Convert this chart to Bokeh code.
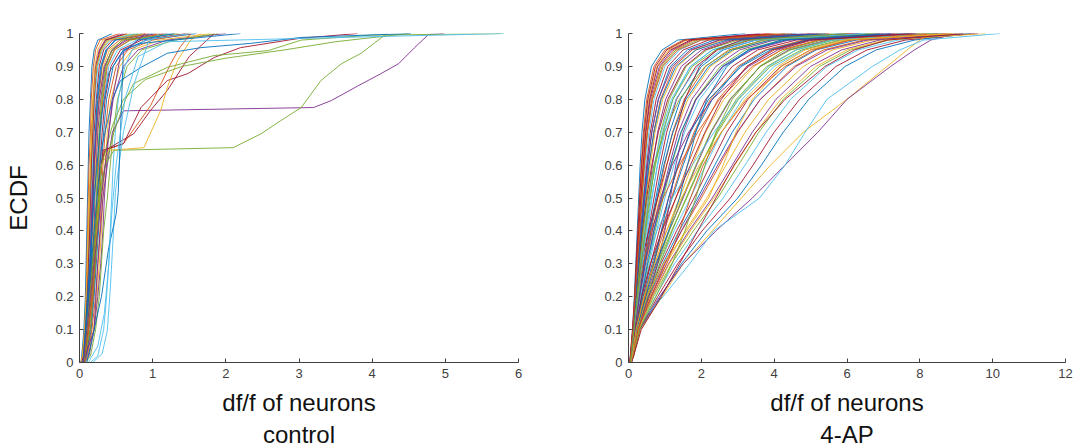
from bokeh.plotting import figure
from bokeh.layouts import row
from bokeh.models import FixedTicker, CustomJSTickFormatter, Title, Range1d
from bokeh.embed import file_html
from bokeh.resources import INLINE

# ---------------- data ----------------
# ECDF probability levels at which quantiles (x values) were read off
P_LEVELS = [0, 0.02, 0.1, 0.2, 0.3, 0.4, 0.5, 0.6, 0.7, 0.8, 0.9, 0.95, 0.98, 1.0]

# control: dense band of steep curves (x at each P level)
CONTROL_BAND = [
    [0.02, 0.03, 0.06, 0.08, 0.09, 0.10, 0.11, 0.12, 0.13, 0.15, 0.17, 0.20, 0.25, 0.45],
    [0.02, 0.04, 0.07, 0.09, 0.10, 0.11, 0.12, 0.13, 0.15, 0.16, 0.19, 0.22, 0.28, 0.55],
    [0.03, 0.04, 0.08, 0.10, 0.11, 0.12, 0.13, 0.15, 0.16, 0.18, 0.21, 0.25, 0.32, 0.70],
    [0.02, 0.05, 0.08, 0.10, 0.12, 0.13, 0.14, 0.16, 0.17, 0.19, 0.22, 0.27, 0.35, 0.60],
    [0.03, 0.05, 0.09, 0.11, 0.13, 0.14, 0.15, 0.17, 0.18, 0.20, 0.24, 0.29, 0.38, 0.80],
    [0.03, 0.05, 0.09, 0.12, 0.14, 0.15, 0.16, 0.18, 0.19, 0.21, 0.25, 0.31, 0.42, 0.75],
    [0.04, 0.06, 0.10, 0.13, 0.15, 0.16, 0.17, 0.19, 0.20, 0.23, 0.27, 0.33, 0.45, 0.90],
    [0.03, 0.06, 0.10, 0.13, 0.15, 0.17, 0.18, 0.20, 0.22, 0.24, 0.29, 0.36, 0.50, 1.00],
    [0.04, 0.07, 0.11, 0.14, 0.16, 0.18, 0.19, 0.21, 0.23, 0.26, 0.31, 0.38, 0.55, 0.95],
    [0.04, 0.07, 0.12, 0.15, 0.17, 0.19, 0.20, 0.22, 0.24, 0.27, 0.33, 0.41, 0.60, 1.10],
    [0.05, 0.08, 0.12, 0.16, 0.18, 0.20, 0.21, 0.23, 0.25, 0.29, 0.35, 0.44, 0.65, 1.20],
    [0.04, 0.08, 0.13, 0.17, 0.19, 0.21, 0.23, 0.25, 0.27, 0.31, 0.37, 0.47, 0.70, 1.30],
    [0.05, 0.09, 0.14, 0.18, 0.21, 0.23, 0.25, 0.27, 0.29, 0.33, 0.40, 0.52, 0.78, 1.25],
    [0.05, 0.09, 0.15, 0.19, 0.22, 0.24, 0.26, 0.28, 0.31, 0.35, 0.43, 0.56, 0.85, 1.45],
    [0.06, 0.10, 0.16, 0.20, 0.23, 0.26, 0.28, 0.30, 0.33, 0.37, 0.46, 0.60, 0.92, 1.60],
    [0.06, 0.11, 0.17, 0.22, 0.25, 0.28, 0.30, 0.32, 0.35, 0.40, 0.50, 0.66, 1.00, 1.50],
    [0.07, 0.12, 0.19, 0.24, 0.27, 0.30, 0.32, 0.35, 0.38, 0.43, 0.55, 0.72, 1.10, 1.80],
    [0.07, 0.13, 0.20, 0.25, 0.29, 0.32, 0.34, 0.37, 0.40, 0.46, 0.60, 0.80, 1.20, 2.00],
    [0.08, 0.15, 0.22, 0.27, 0.30, 0.33, 0.38, 0.42, 0.46, 0.52, 0.65, 0.85, 1.30, 1.90],
    [0.15, 0.25, 0.33, 0.37, 0.40, 0.42, 0.44, 0.46, 0.49, 0.53, 0.62, 0.72, 0.90, 1.50],
    [0.03, 0.05, 0.08, 0.11, 0.12, 0.14, 0.15, 0.16, 0.18, 0.20, 0.23, 0.28, 0.36, 0.65],
    [0.04, 0.06, 0.11, 0.14, 0.16, 0.17, 0.19, 0.20, 0.22, 0.25, 0.30, 0.37, 0.48, 0.85],
    [0.05, 0.08, 0.13, 0.17, 0.20, 0.22, 0.24, 0.26, 0.28, 0.32, 0.38, 0.48, 0.68, 1.15],
    [0.02, 0.04, 0.07, 0.09, 0.11, 0.12, 0.14, 0.15, 0.17, 0.19, 0.23, 0.30, 0.40, 0.90],
    [0.03, 0.06, 0.10, 0.12, 0.14, 0.16, 0.18, 0.20, 0.23, 0.27, 0.34, 0.45, 0.62, 1.05],
    [0.04, 0.07, 0.11, 0.15, 0.18, 0.21, 0.23, 0.25, 0.27, 0.30, 0.36, 0.44, 0.58, 1.35],
]

# control: individual outlier curves (x, y pairs)
PURPLE_A_X = [0.05, 0.20, 0.25, 0.32, 0.38, 0.45, 0.60, 3.20, 3.44, 3.80, 4.12, 4.36, 4.58, 4.77, 4.98]
PURPLE_A_Y = [0.0, 0.10, 0.30, 0.50, 0.60, 0.70, 0.765, 0.775, 0.796, 0.84, 0.878, 0.908, 0.957, 0.997, 1.0]
GREEN_B_X = [0.05, 0.15, 0.22, 0.28, 0.35, 0.47, 2.10, 2.48, 2.75, 3.03, 3.30, 3.58, 3.85, 4.20]
GREEN_B_Y = [0.0, 0.10, 0.30, 0.50, 0.60, 0.645, 0.653, 0.695, 0.735, 0.775, 0.857, 0.908, 0.94, 1.0]
RED_C_X = [0.06, 0.18, 0.25, 0.30, 0.35, 0.60, 0.97, 1.25, 1.38, 1.52]
RED_C_Y = [0.0, 0.20, 0.45, 0.60, 0.645, 0.665, 0.78, 0.91, 0.96, 1.0]
RED_E_X = [0.06, 0.20, 0.28, 0.32, 0.60, 0.84, 1.20, 1.48, 1.84, 2.20, 3.00, 3.80]
RED_E_Y = [0.0, 0.30, 0.55, 0.645, 0.665, 0.775, 0.857, 0.878, 0.927, 0.957, 0.985, 1.0]
RED_F_X = [0.05, 0.20, 0.30, 0.35, 0.74, 0.97, 1.20, 1.50, 1.84]
RED_F_Y = [0.0, 0.35, 0.60, 0.645, 0.695, 0.766, 0.827, 0.93, 1.0]
ORANGE_D_X = [0.05, 0.20, 0.30, 0.40, 0.88, 1.11, 1.20, 1.34, 1.52, 1.66]
ORANGE_D_Y = [0.0, 0.30, 0.60, 0.645, 0.653, 0.766, 0.836, 0.918, 0.98, 1.0]
GREEN_G_X = [0.06, 0.20, 0.30, 0.47, 0.63, 0.74, 1.20, 1.84, 2.58, 3.03, 4.00, 5.77]
GREEN_G_Y = [0.0, 0.30, 0.55, 0.70, 0.80, 0.848, 0.897, 0.933, 0.948, 0.98, 0.995, 1.0]
GREEN_H_X = [0.05, 0.20, 0.30, 0.45, 0.60, 0.90, 1.40, 2.00, 2.80, 3.50, 4.50]
GREEN_H_Y = [0.0, 0.35, 0.60, 0.72, 0.80, 0.86, 0.90, 0.925, 0.95, 0.975, 1.0]
BLUE_I_X = [0.05, 0.20, 0.30, 0.45, 0.56, 0.84, 1.20, 1.66, 2.34, 3.03, 4.53]
BLUE_I_Y = [0.0, 0.40, 0.65, 0.80, 0.857, 0.897, 0.94, 0.957, 0.97, 0.988, 1.0]
BLUE_J_X = [0.05, 0.20, 0.30, 0.40, 0.60, 0.84, 1.66, 2.20]
BLUE_J_Y = [0.0, 0.50, 0.75, 0.88, 0.95, 0.97, 0.988, 1.0]
CYAN_K_X = [0.18, 0.31, 0.38, 0.42, 0.47, 0.49, 0.60, 0.75, 0.94, 1.10]
CYAN_K_Y = [0.0, 0.027, 0.097, 0.22, 0.42, 0.517, 0.70, 0.85, 0.973, 1.0]
BLUE_L_X = [0.10, 0.30, 0.40, 0.50, 0.53, 0.60, 0.80, 1.30]
BLUE_L_Y = [0.0, 0.20, 0.35, 0.45, 0.517, 0.945, 0.98, 1.0]
PURPLE_M_X = [0.05, 0.20, 0.30, 0.36, 0.45, 0.56, 0.90]
PURPLE_M_Y = [0.0, 0.30, 0.50, 0.62, 0.80, 0.933, 1.0]
CYAN_N_X = [0.12, 0.25, 0.34, 0.40, 0.44, 0.50, 0.62, 0.80, 1.20, 5.80]
CYAN_N_Y = [0.0, 0.05, 0.15, 0.30, 0.45, 0.60, 0.80, 0.93, 0.975, 1.0]

CONTROL_OUTLIERS = [
    (PURPLE_A_X, PURPLE_A_Y, "#7E2F8E"),
    (GREEN_B_X, GREEN_B_Y, "#77AC30"),
    (RED_C_X, RED_C_Y, "#D95319"),
    (RED_E_X, RED_E_Y, "#A2142F"),
    (RED_F_X, RED_F_Y, "#A2142F"),
    (ORANGE_D_X, ORANGE_D_Y, "#EDB120"),
    (GREEN_G_X, GREEN_G_Y, "#77AC30"),
    (GREEN_H_X, GREEN_H_Y, "#77AC30"),
    (BLUE_I_X, BLUE_I_Y, "#0072BD"),
    (BLUE_J_X, BLUE_J_Y, "#0072BD"),
    (CYAN_K_X, CYAN_K_Y, "#4DBEEE"),
    (BLUE_L_X, BLUE_L_Y, "#0072BD"),
    (PURPLE_M_X, PURPLE_M_Y, "#7E2F8E"),
    (CYAN_N_X, CYAN_N_Y, "#4DBEEE"),
]

# 4-AP: x at each P level
AP_CURVES = [
    [0.03, 0.05, 0.11, 0.16, 0.20, 0.24, 0.28, 0.32, 0.37, 0.45, 0.63, 0.92, 1.35, 3.2],
    [0.04, 0.06, 0.12, 0.17, 0.22, 0.26, 0.30, 0.35, 0.41, 0.50, 0.70, 1.00, 1.50, 3.8],
    [0.03, 0.06, 0.13, 0.19, 0.24, 0.28, 0.33, 0.38, 0.45, 0.55, 0.78, 1.10, 1.60, 4.1],
    [0.04, 0.07, 0.13, 0.20, 0.25, 0.30, 0.35, 0.41, 0.48, 0.60, 0.85, 1.20, 1.75, 3.6],
    [0.05, 0.07, 0.14, 0.21, 0.27, 0.32, 0.38, 0.44, 0.52, 0.65, 0.92, 1.30, 1.90, 4.4],
    [0.04, 0.06, 0.14, 0.22, 0.28, 0.34, 0.40, 0.47, 0.56, 0.70, 1.00, 1.40, 2.00, 4.8],
    [0.05, 0.08, 0.15, 0.23, 0.30, 0.36, 0.42, 0.50, 0.60, 0.76, 1.08, 1.50, 2.20, 5.0],
    [0.04, 0.07, 0.15, 0.24, 0.31, 0.38, 0.45, 0.53, 0.64, 0.82, 1.15, 1.62, 2.35, 4.6],
    [0.05, 0.08, 0.16, 0.25, 0.33, 0.40, 0.48, 0.57, 0.69, 0.88, 1.25, 1.75, 2.50, 5.3],
    [0.05, 0.07, 0.16, 0.26, 0.34, 0.42, 0.50, 0.60, 0.73, 0.94, 1.35, 1.85, 2.60, 5.6],
    [0.04, 0.08, 0.17, 0.27, 0.36, 0.45, 0.55, 0.66, 0.80, 1.02, 1.45, 2.00, 2.80, 5.2],
    [0.05, 0.08, 0.17, 0.28, 0.38, 0.48, 0.60, 0.72, 0.88, 1.12, 1.58, 2.15, 3.00, 6.0],
    [0.06, 0.09, 0.18, 0.29, 0.40, 0.52, 0.65, 0.79, 0.96, 1.22, 1.70, 2.30, 3.20, 5.8],
    [0.05, 0.08, 0.18, 0.30, 0.42, 0.55, 0.70, 0.86, 1.05, 1.32, 1.85, 2.45, 3.35, 6.3],
    [0.05, 0.09, 0.19, 0.31, 0.44, 0.58, 0.75, 0.92, 1.13, 1.43, 2.00, 2.60, 3.50, 6.6],
    [0.06, 0.09, 0.19, 0.32, 0.46, 0.62, 0.80, 0.99, 1.21, 1.53, 2.12, 2.75, 3.70, 6.1],
    [0.05, 0.09, 0.20, 0.34, 0.49, 0.66, 0.85, 1.05, 1.29, 1.63, 2.25, 2.90, 3.85, 6.9],
    [0.06, 0.10, 0.20, 0.35, 0.51, 0.69, 0.90, 1.12, 1.37, 1.74, 2.40, 3.05, 4.00, 7.2],
    [0.05, 0.09, 0.21, 0.37, 0.54, 0.73, 0.95, 1.18, 1.45, 1.84, 2.52, 3.20, 4.20, 6.8],
    [0.06, 0.10, 0.21, 0.38, 0.57, 0.77, 1.00, 1.25, 1.54, 1.95, 2.65, 3.35, 4.35, 7.5],
    [0.06, 0.10, 0.22, 0.40, 0.61, 0.84, 1.10, 1.37, 1.68, 2.12, 2.85, 3.55, 4.60, 7.0],
    [0.05, 0.10, 0.22, 0.42, 0.65, 0.91, 1.20, 1.50, 1.83, 2.30, 3.05, 3.80, 4.85, 7.8],
    [0.06, 0.11, 0.23, 0.44, 0.69, 0.97, 1.30, 1.62, 1.98, 2.46, 3.25, 4.00, 5.05, 7.4],
    [0.06, 0.10, 0.23, 0.46, 0.73, 1.04, 1.40, 1.75, 2.12, 2.62, 3.45, 4.20, 5.25, 8.1],
    [0.07, 0.11, 0.24, 0.48, 0.77, 1.11, 1.50, 1.87, 2.27, 2.80, 3.62, 4.40, 5.45, 7.9],
    [0.06, 0.11, 0.24, 0.50, 0.81, 1.18, 1.60, 2.00, 2.42, 2.96, 3.80, 4.60, 5.65, 8.4],
    [0.07, 0.12, 0.25, 0.52, 0.85, 1.25, 1.70, 2.12, 2.56, 3.12, 4.00, 4.80, 5.85, 8.2],
    [0.06, 0.11, 0.25, 0.54, 0.89, 1.32, 1.80, 2.25, 2.70, 3.28, 4.18, 5.00, 6.05, 8.7],
    [0.07, 0.12, 0.26, 0.56, 0.94, 1.39, 1.90, 2.37, 2.85, 3.45, 4.35, 5.15, 6.25, 8.5],
    [0.07, 0.12, 0.26, 0.58, 0.98, 1.46, 2.00, 2.50, 3.00, 3.62, 4.55, 5.35, 6.45, 8.9],
    [0.07, 0.13, 0.27, 0.61, 1.04, 1.56, 2.15, 2.68, 3.20, 3.85, 4.80, 5.60, 6.70, 9.1],
    [0.08, 0.12, 0.28, 0.65, 1.10, 1.66, 2.30, 2.85, 3.40, 4.05, 5.00, 5.85, 6.90, 8.8],
    [0.07, 0.13, 0.29, 0.69, 1.18, 1.78, 2.45, 3.02, 3.58, 4.25, 5.25, 6.10, 7.15, 9.3],
    [0.08, 0.14, 0.30, 0.74, 1.26, 1.90, 2.60, 3.20, 3.78, 4.45, 5.45, 6.30, 7.40, 9.2],
    [0.08, 0.13, 0.31, 0.80, 1.35, 2.02, 2.80, 3.42, 4.00, 4.70, 5.70, 6.55, 7.60, 9.5],
    [0.08, 0.14, 0.32, 0.88, 1.45, 2.15, 3.00, 3.65, 4.25, 4.95, 5.95, 6.80, 7.85, 9.4],
    [0.08, 0.14, 0.33, 0.92, 1.50, 2.30, 3.10, 3.90, 4.80, 6.00, 7.10, 7.65, 8.00, 8.3],
    [0.07, 0.13, 0.30, 0.85, 1.50, 2.40, 3.40, 4.30, 5.20, 6.00, 7.20, 7.85, 8.30, 9.0],
    [0.06, 0.09, 0.12, 0.95, 1.68, 2.34, 3.60, 4.30, 4.85, 5.45, 6.70, 7.45, 8.10, 10.2],
    [0.04, 0.07, 0.14, 0.21, 0.29, 0.38, 0.50, 0.64, 0.82, 1.08, 1.55, 2.10, 2.90, 5.5],
    [0.05, 0.08, 0.16, 0.30, 0.45, 0.60, 0.78, 0.97, 1.22, 1.58, 2.20, 2.85, 3.90, 6.4],
    [0.06, 0.10, 0.24, 0.45, 0.68, 0.92, 1.18, 1.46, 1.80, 2.25, 3.00, 3.75, 4.80, 7.6],
    [0.06, 0.11, 0.25, 0.55, 0.86, 1.20, 1.58, 1.98, 2.45, 3.02, 3.90, 4.75, 5.80, 8.6],
    [0.07, 0.12, 0.27, 0.62, 1.00, 1.45, 1.95, 2.45, 2.98, 3.62, 4.60, 5.45, 6.55, 9.6],
    [0.05, 0.08, 0.15, 0.24, 0.33, 0.43, 0.56, 0.71, 0.90, 1.18, 1.70, 2.30, 3.20, 5.9],
    [0.04, 0.06, 0.12, 0.18, 0.23, 0.28, 0.34, 0.40, 0.47, 0.58, 0.80, 1.15, 1.70, 4.3],
    [0.05, 0.07, 0.13, 0.19, 0.25, 0.31, 0.37, 0.43, 0.51, 0.63, 0.88, 1.25, 1.80, 4.0],
    [0.06, 0.10, 0.21, 0.36, 0.52, 0.70, 0.92, 1.16, 1.44, 1.86, 2.58, 3.30, 4.30, 7.7],
    [0.06, 0.11, 0.26, 0.52, 0.80, 1.12, 1.48, 1.85, 2.25, 2.78, 3.62, 4.45, 5.55, 8.3],
    [0.07, 0.12, 0.28, 0.66, 1.12, 1.70, 2.35, 2.92, 3.50, 4.18, 5.15, 6.00, 7.05, 9.8],
    [0.05, 0.08, 0.14, 0.22, 0.35, 0.55, 0.80, 1.05, 1.30, 1.55, 1.95, 2.40, 3.10, 6.2],
    [0.06, 0.10, 0.25, 0.55, 0.80, 1.00, 1.15, 1.30, 1.50, 1.85, 2.60, 3.40, 4.40, 7.3],
    [0.05, 0.09, 0.18, 0.40, 0.75, 1.10, 1.40, 1.62, 1.85, 2.15, 2.70, 3.30, 4.20, 6.9],
    [0.07, 0.12, 0.30, 0.75, 1.20, 1.55, 1.85, 2.10, 2.40, 2.85, 3.60, 4.30, 5.30, 8.0],
    [0.05, 0.08, 0.16, 0.26, 0.40, 0.62, 0.95, 1.40, 1.90, 2.50, 3.40, 4.20, 5.20, 8.2],
    [0.06, 0.09, 0.20, 0.33, 0.50, 0.78, 1.20, 1.75, 2.35, 3.00, 3.85, 4.60, 5.60, 8.6],
    [0.06, 0.11, 0.24, 0.50, 0.95, 1.60, 2.20, 2.60, 2.95, 3.40, 4.20, 5.00, 6.00, 8.8],
    [0.08, 0.14, 0.35, 0.90, 1.40, 1.90, 2.40, 2.90, 3.50, 4.30, 5.40, 6.20, 7.10, 9.2],
    [0.05, 0.09, 0.17, 0.30, 0.46, 0.65, 0.88, 1.20, 1.65, 2.30, 3.30, 4.10, 5.00, 7.9],
    [0.06, 0.10, 0.22, 0.48, 0.70, 0.90, 1.10, 1.35, 1.70, 2.20, 3.10, 3.90, 4.90, 7.2],
    [0.04, 0.07, 0.14, 0.23, 0.31, 0.40, 0.52, 0.70, 0.98, 1.40, 2.10, 2.80, 3.70, 6.7],
    [0.07, 0.11, 0.26, 0.62, 1.05, 1.40, 1.70, 2.05, 2.55, 3.25, 4.30, 5.10, 6.10, 8.5],
    [0.05, 0.08, 0.19, 0.36, 0.60, 0.92, 1.30, 1.70, 2.10, 2.55, 3.25, 3.95, 4.95, 7.8],
    [0.06, 0.10, 0.21, 0.42, 0.72, 1.05, 1.45, 1.95, 2.55, 3.20, 4.10, 4.85, 5.90, 8.9],
    [0.05, 0.08, 0.15, 0.26, 0.37, 0.49, 0.63, 0.80, 1.00, 1.30, 1.90, 2.55, 3.50, 6.5],
    [0.04, 0.06, 0.12, 0.19, 0.26, 0.33, 0.42, 0.52, 0.64, 0.82, 1.20, 1.70, 2.50, 5.1],
    [0.04, 0.07, 0.13, 0.20, 0.27, 0.35, 0.45, 0.56, 0.70, 0.90, 1.30, 1.85, 2.70, 5.4],
    [0.03, 0.05, 0.11, 0.17, 0.21, 0.26, 0.31, 0.36, 0.43, 0.53, 0.74, 1.05, 1.55, 3.9],
    [0.04, 0.06, 0.12, 0.18, 0.24, 0.30, 0.36, 0.43, 0.52, 0.66, 0.95, 1.35, 2.00, 4.5],
    [0.05, 0.08, 0.15, 0.25, 0.35, 0.46, 0.58, 0.74, 0.94, 1.22, 1.75, 2.40, 3.30, 6.0],
]
AP_COLOR_INDEX = [0, 1, 2, 3, 4, 5, 6, 0, 1, 2, 3, 4, 5, 6, 0, 1, 2, 3, 4, 5,
                  6, 0, 1, 2, 3, 4, 5, 6, 0, 1, 2, 3, 4, 5, 6, 0, 2, 3, 5, 6,
                  0, 1, 4, 3, 5, 6, 1, 0, 4, 2, 6, 3, 0, 4, 1, 5, 2, 6, 3, 0,
                  4, 1, 6, 2, 5, 3, 0, 6, 1, 4]

Y_TICKS = [0, 0.1, 0.2, 0.3, 0.4, 0.5, 0.6, 0.7, 0.8, 0.9, 1.0]
CONTROL_X_TICKS = [0, 1, 2, 3, 4, 5, 6]
AP_X_TICKS = [0, 2, 4, 6, 8, 10, 12]

# ---------------- style ----------------
MATLAB = ["#0072BD", "#D95319", "#EDB120", "#7E2F8E", "#77AC30", "#4DBEEE", "#A2142F"]
FONT = "Liberation Sans"
AXIS_GRAY = "#404040"
LW = 0.9


def style(p, xticks, ylabel=None):
    p.outline_line_color = None
    p.xgrid.visible = False
    p.ygrid.visible = False
    p.background_fill_color = "white"
    p.border_fill_color = "white"
    for ax in (p.xaxis[0], p.yaxis[0]):
        ax.axis_line_color = AXIS_GRAY
        ax.axis_line_width = 1
        ax.major_tick_line_color = AXIS_GRAY
        ax.major_tick_in = 4
        ax.major_tick_out = 0
        ax.minor_tick_line_color = None
        ax.major_label_text_font = FONT
        ax.major_label_text_font_size = "13px"
        ax.major_label_text_color = AXIS_GRAY
        ax.axis_label_text_font = FONT
        ax.axis_label_text_font_size = "24px"
        ax.axis_label_text_font_style = "normal"
        ax.axis_label_text_color = "#111111"
    p.xaxis[0].ticker = FixedTicker(ticks=xticks)
    p.xaxis[0].major_label_standoff = 6
    p.yaxis[0].ticker = FixedTicker(ticks=Y_TICKS)
    p.yaxis[0].major_label_standoff = 6
    p.yaxis[0].formatter = CustomJSTickFormatter(code="return String(Math.round(tick*10)/10);")
    p.xaxis[0].axis_label = "df/f of neurons"
    p.xaxis[0].axis_label_standoff = 8
    if ylabel:
        p.yaxis[0].axis_label = ylabel
        p.yaxis[0].axis_label_standoff = 20


# ---------------- control panel ----------------
p1 = figure(width=560, height=447, output_backend="svg", toolbar_location=None,
            x_range=Range1d(0, 6), y_range=Range1d(0, 1),
            min_border_left=79, min_border_right=42, min_border_top=33, min_border_bottom=85)
style(p1, CONTROL_X_TICKS, "ECDF")
t1 = Title(text="control", align="center", text_font=FONT, text_font_size="24px",
           text_font_style="normal", text_color="#111111", standoff=0, offset=0)
p1.add_layout(t1, "below")

band_ys = [P_LEVELS for _ in CONTROL_BAND]
band_colors = [MATLAB[i % 7] for i in range(len(CONTROL_BAND))]
p1.multi_line(xs=CONTROL_BAND, ys=band_ys, line_color=band_colors, line_width=LW)
p1.multi_line(xs=[o[0] for o in CONTROL_OUTLIERS], ys=[o[1] for o in CONTROL_OUTLIERS],
              line_color=[o[2] for o in CONTROL_OUTLIERS], line_width=LW)

# ---------------- 4-AP panel ----------------
p2 = figure(width=514, height=447, output_backend="svg", toolbar_location=None,
            x_range=Range1d(0, 12), y_range=Range1d(0, 1),
            min_border_left=68, min_border_right=9, min_border_top=16, min_border_bottom=85)
style(p2, AP_X_TICKS)
t2 = Title(text="4-AP", align="center", text_font=FONT, text_font_size="24px",
           text_font_style="normal", text_color="#111111", standoff=0, offset=0)
p2.add_layout(t2, "below")
p2.multi_line(xs=AP_CURVES, ys=[P_LEVELS for _ in AP_CURVES],
              line_color=[MATLAB[i] for i in AP_COLOR_INDEX], line_width=LW)

layout = row(p1, p2, spacing=0)
open("out.html", "w").write(file_html(layout, INLINE))
